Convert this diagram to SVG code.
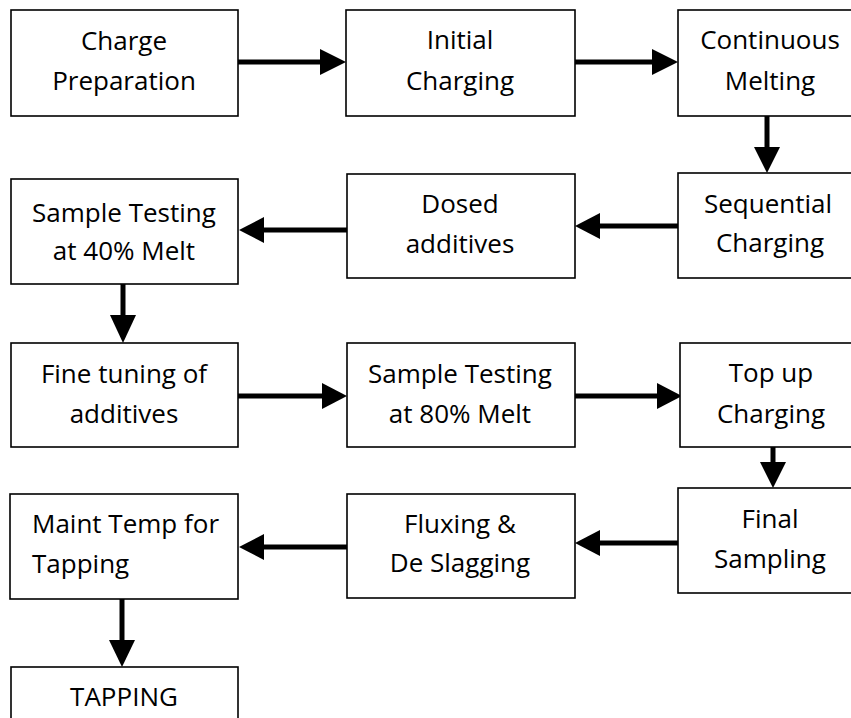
<svg xmlns="http://www.w3.org/2000/svg" width="851" height="718" viewBox="0 0 851 718">
  <style>
    .box { fill: #ffffff; stroke: #000000; stroke-width: 1.6; }
    .lbl { font-family: "Open Sans", "Noto Sans", sans-serif; font-size: 26px; fill: #000000; text-anchor: middle; }
    .lft { text-anchor: start; }
    .conn { stroke: #000000; stroke-width: 5; fill: none; }
    .head { fill: #000000; }
  </style>
  <rect width="851" height="718" fill="#ffffff"/>

  <g id="connectors">
    <!-- row 1: left to right -->
    <line class="conn" x1="238" y1="62" x2="322" y2="62"/>
    <polygon class="head" points="320,49 346,62 320,75"/>
    <line class="conn" x1="575" y1="62" x2="654" y2="62"/>
    <polygon class="head" points="652,49 678,62 652,75"/>
    <!-- down to Sequential Charging -->
    <line class="conn" x1="767" y1="116" x2="767" y2="149"/>
    <polygon class="head" points="754,147 780,147 767,173"/>
    <!-- row 2: right to left -->
    <line class="conn" x1="678" y1="226" x2="598" y2="226"/>
    <polygon class="head" points="600,213 575,226 600,239"/>
    <line class="conn" x1="347" y1="230" x2="262" y2="230"/>
    <polygon class="head" points="264,217 239,230 264,243"/>
    <!-- down to Fine tuning -->
    <line class="conn" x1="123" y1="284" x2="123" y2="317"/>
    <polygon class="head" points="110,315 136,315 123,343"/>
    <!-- row 3: left to right -->
    <line class="conn" x1="238" y1="396" x2="324" y2="396"/>
    <polygon class="head" points="322,383 347,396 322,409"/>
    <line class="conn" x1="575" y1="396" x2="659" y2="396"/>
    <polygon class="head" points="657,383 682,396 657,409"/>
    <!-- down to Final Sampling -->
    <line class="conn" x1="773" y1="447" x2="773" y2="464"/>
    <polygon class="head" points="760,462 786,462 773,488"/>
    <!-- row 4: right to left -->
    <line class="conn" x1="678" y1="543" x2="598" y2="543"/>
    <polygon class="head" points="600,530 575,543 600,556"/>
    <line class="conn" x1="347" y1="547" x2="262" y2="547"/>
    <polygon class="head" points="264,534 239,547 264,560"/>
    <!-- down to TAPPING -->
    <line class="conn" x1="122" y1="599" x2="122" y2="642"/>
    <polygon class="head" points="109,640 135,640 122,667"/>
  </g>

  <g id="charge-preparation">
    <rect class="box" x="11" y="10" width="227" height="106"/>
    <text class="lbl" x="124" y="50">Charge</text>
    <text class="lbl" x="124" y="90">Preparation</text>
  </g>
  <g id="initial-charging">
    <rect class="box" x="346" y="10" width="229" height="106"/>
    <text class="lbl" x="460" y="49">Initial</text>
    <text class="lbl" x="460" y="90">Charging</text>
  </g>
  <g id="continuous-melting">
    <rect class="box" x="678" y="10" width="190" height="106"/>
    <text class="lbl" x="770" y="49">Continuous</text>
    <text class="lbl" x="770" y="90">Melting</text>
  </g>
  <g id="sequential-charging">
    <rect class="box" x="678" y="173" width="190" height="105"/>
    <text class="lbl" x="768" y="213">Sequential</text>
    <text class="lbl" x="770" y="252">Charging</text>
  </g>
  <g id="dosed-additives">
    <rect class="box" x="347" y="174" width="228" height="104"/>
    <text class="lbl" x="460" y="213">Dosed</text>
    <text class="lbl" x="460" y="253">additives</text>
  </g>
  <g id="sample-testing-40">
    <rect class="box" x="11" y="179" width="227" height="105"/>
    <text class="lbl" x="124" y="222">Sample Testing</text>
    <text class="lbl" x="124" y="260">at 40% Melt</text>
  </g>
  <g id="fine-tuning">
    <rect class="box" x="11" y="343" width="227" height="104"/>
    <text class="lbl" x="124" y="383">Fine tuning of</text>
    <text class="lbl" x="124" y="423">additives</text>
  </g>
  <g id="sample-testing-80">
    <rect class="box" x="347" y="343" width="228" height="104"/>
    <text class="lbl" x="460" y="383">Sample Testing</text>
    <text class="lbl" x="460" y="423">at 80% Melt</text>
  </g>
  <g id="top-up-charging">
    <rect class="box" x="680" y="343" width="190" height="104"/>
    <text class="lbl" x="771" y="382">Top up</text>
    <text class="lbl" x="771" y="423">Charging</text>
  </g>
  <g id="final-sampling">
    <rect class="box" x="678" y="488" width="190" height="105"/>
    <text class="lbl" x="770" y="528">Final</text>
    <text class="lbl" x="770" y="568">Sampling</text>
  </g>
  <g id="fluxing-deslagging">
    <rect class="box" x="347" y="494" width="228" height="104"/>
    <text class="lbl" x="460" y="533">Fluxing &amp;</text>
    <text class="lbl" x="460" y="572">De Slagging</text>
  </g>
  <g id="maint-temp">
    <rect class="box" x="10" y="494" width="228" height="105"/>
    <text class="lbl lft" x="32" y="533">Maint Temp for</text>
    <text class="lbl lft" x="32" y="573">Tapping</text>
  </g>
  <g id="tapping">
    <rect class="box" x="11" y="667" width="227" height="70"/>
    <text class="lbl" x="124" y="706">TAPPING</text>
  </g>
</svg>
